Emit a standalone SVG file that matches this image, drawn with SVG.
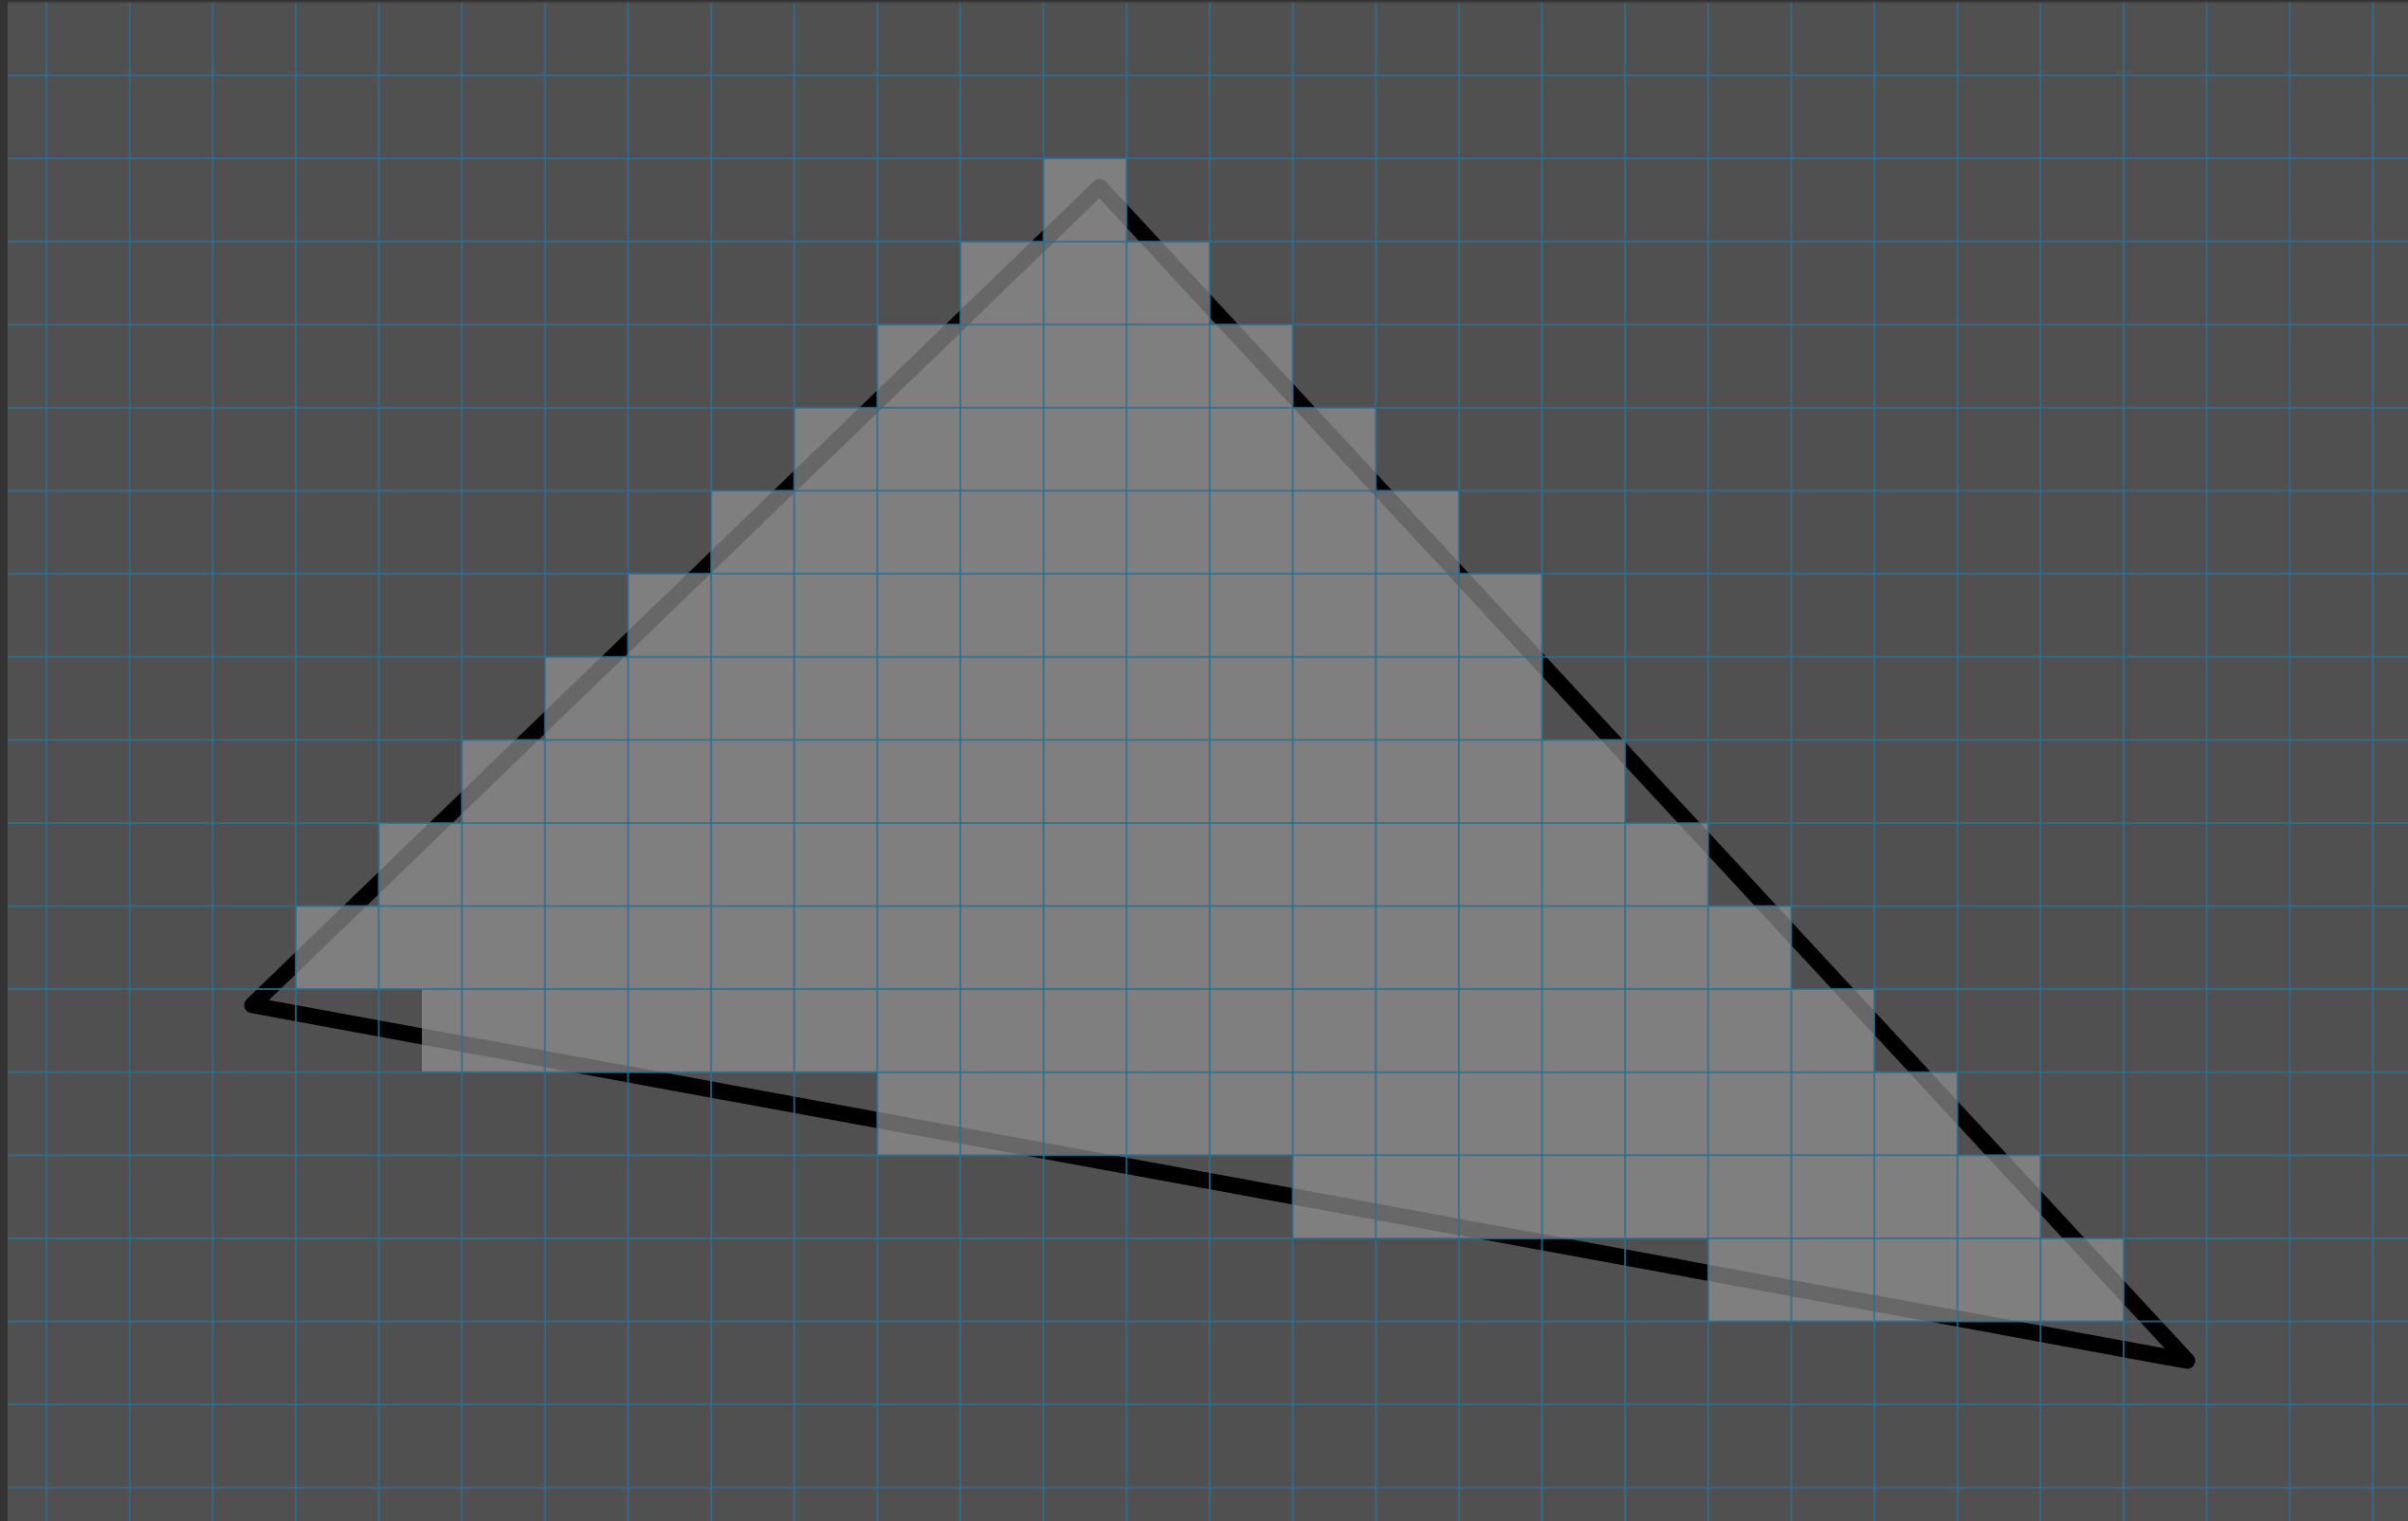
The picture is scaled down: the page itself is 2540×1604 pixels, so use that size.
<svg xmlns="http://www.w3.org/2000/svg" width="2540" height="1604" viewBox="0 0 2540 1604">
  <defs>
    <linearGradient id="topShade" x1="0" y1="0" x2="0" y2="1">
      <stop offset="0" stop-color="#2e2e2e"/>
      <stop offset="1" stop-color="#505050"/>
    </linearGradient>
    <style>
      .grid line { stroke: #2a6f95; stroke-width: 2; stroke-opacity: 0.8; }
      .tri { fill: none; stroke: #000; stroke-width: 17; stroke-linejoin: round; }
      .cells { fill: #939393; fill-opacity: 0.7; }
    </style>
  </defs>
  <rect id="background" x="0" y="0" width="2540" height="1604" fill="#505050"/>
  <rect id="top-edge" x="0" y="0" width="2540" height="4" fill="url(#topShade)"/>
  <rect id="left-edge" x="0" y="0" width="8" height="1604" fill="#333333"/>

  <polygon id="triangle" class="tri" points="1160,197 266,1060 2307,1435"/>

  <path id="covered-pixels" class="cells" d="M1100.68,167.1 H1188.32 V254.7 H1275.96 V342.3 H1363.6 V429.9 H1451.24 V517.5 H1538.88 V605.1 H1626.52 V780.3 H1714.16 V867.9 H1801.8 V955.5 H1889.44 V1043.1 H1977.08 V1130.7 H2064.72 V1218.3 H2152.36 V1305.9 H2240 V1393.5 H1801.8 V1305.9 H1363.6 V1218.3 H925.4 V1130.7 H445 V1043.1 H311.92 V955.5 H399.56 V867.9 H487.2 V780.3 H574.84 V692.7 H662.48 V605.1 H750.12 V517.5 H837.76 V429.9 H925.4 V342.3 H1013.04 V254.7 H1100.68 Z"/>

  <g id="grid" class="grid">
    <line x1="49" y1="3" x2="49" y2="1604"/>
    <line x1="136.64" y1="3" x2="136.64" y2="1604"/>
    <line x1="224.28" y1="3" x2="224.28" y2="1604"/>
    <line x1="311.92" y1="3" x2="311.92" y2="1604"/>
    <line x1="399.56" y1="3" x2="399.56" y2="1604"/>
    <line x1="487.2" y1="3" x2="487.2" y2="1604"/>
    <line x1="574.84" y1="3" x2="574.84" y2="1604"/>
    <line x1="662.48" y1="3" x2="662.48" y2="1604"/>
    <line x1="750.12" y1="3" x2="750.12" y2="1604"/>
    <line x1="837.76" y1="3" x2="837.76" y2="1604"/>
    <line x1="925.4" y1="3" x2="925.4" y2="1604"/>
    <line x1="1013.04" y1="3" x2="1013.04" y2="1604"/>
    <line x1="1100.68" y1="3" x2="1100.68" y2="1604"/>
    <line x1="1188.32" y1="3" x2="1188.32" y2="1604"/>
    <line x1="1275.96" y1="3" x2="1275.96" y2="1604"/>
    <line x1="1363.6" y1="3" x2="1363.6" y2="1604"/>
    <line x1="1451.24" y1="3" x2="1451.24" y2="1604"/>
    <line x1="1538.88" y1="3" x2="1538.88" y2="1604"/>
    <line x1="1626.52" y1="3" x2="1626.52" y2="1604"/>
    <line x1="1714.16" y1="3" x2="1714.16" y2="1604"/>
    <line x1="1801.8" y1="3" x2="1801.8" y2="1604"/>
    <line x1="1889.44" y1="3" x2="1889.44" y2="1604"/>
    <line x1="1977.08" y1="3" x2="1977.08" y2="1604"/>
    <line x1="2064.72" y1="3" x2="2064.72" y2="1604"/>
    <line x1="2152.36" y1="3" x2="2152.36" y2="1604"/>
    <line x1="2240" y1="3" x2="2240" y2="1604"/>
    <line x1="2327.64" y1="3" x2="2327.64" y2="1604"/>
    <line x1="2415.28" y1="3" x2="2415.28" y2="1604"/>
    <line x1="2502.92" y1="3" x2="2502.92" y2="1604"/>
    <line x1="8" y1="79.5" x2="2540" y2="79.5"/>
    <line x1="8" y1="167.1" x2="2540" y2="167.1"/>
    <line x1="8" y1="254.7" x2="2540" y2="254.7"/>
    <line x1="8" y1="342.3" x2="2540" y2="342.3"/>
    <line x1="8" y1="429.9" x2="2540" y2="429.9"/>
    <line x1="8" y1="517.5" x2="2540" y2="517.5"/>
    <line x1="8" y1="605.1" x2="2540" y2="605.1"/>
    <line x1="8" y1="692.7" x2="2540" y2="692.7"/>
    <line x1="8" y1="780.3" x2="2540" y2="780.3"/>
    <line x1="8" y1="867.9" x2="2540" y2="867.9"/>
    <line x1="8" y1="955.5" x2="2540" y2="955.5"/>
    <line x1="8" y1="1043.1" x2="2540" y2="1043.1"/>
    <line x1="8" y1="1130.7" x2="2540" y2="1130.7"/>
    <line x1="8" y1="1218.3" x2="2540" y2="1218.3"/>
    <line x1="8" y1="1305.9" x2="2540" y2="1305.9"/>
    <line x1="8" y1="1393.5" x2="2540" y2="1393.5"/>
    <line x1="8" y1="1481.1" x2="2540" y2="1481.1"/>
    <line x1="8" y1="1568.7" x2="2540" y2="1568.7"/>
  </g>
</svg>
